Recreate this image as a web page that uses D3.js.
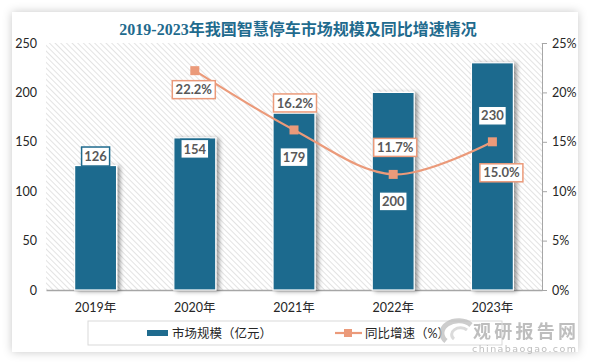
<!DOCTYPE html>
<html>
<head>
<meta charset="utf-8">
<script src="https://cdn.jsdelivr.net/npm/d3@7"></script>
<style>
body { margin: 0; background: #fff; }
svg { display: block; }
</style>
</head>
<body>
<div id="chart-area"></div>
<script>
// data
const years = ["2019年", "2020年", "2021年", "2022年", "2023年"]
const marketSize = [126, 154, 179, 200, 230]          // 亿元
const growthYears = ["2020年", "2021年", "2022年", "2023年"]
const growthRate = [22.2, 16.2, 11.7, 15.0]           // %
const leftTicks = [0, 50, 100, 150, 200, 250]
const rightTicks = [0, 5, 10, 15, 20, 25]

// label placement (px offsets, layout only)
const barLabelDy = [-9, 11, 44, 109, 53]
const lineLabelOffset = [[-1, 19], [1, -27], [2, -27], [9, 31]]

const W = 589, H = 364
const PLOT = { LEFT: 46, RIGHT: 542, TOP: 43, BOTTOM: 290 }
const BLUE = "#1f6b8e"
const SALMON = "#eb9a7a"
const FONT = "Lato, 'Noto Sans CJK SC', sans-serif"

const svg = d3.select("#chart-area").append("svg")
	.attr("width", W)
	.attr("height", H)

const defs = svg.append("defs")

// diagonal hatch for plot background
const pat = defs.append("pattern")
	.attr("id", "hatch")
	.attr("patternUnits", "userSpaceOnUse")
	.attr("width", 4)
	.attr("height", 4)
	.attr("patternTransform", "rotate(-45)")
pat.append("rect").attr("width", 4).attr("height", 4).attr("fill", "#fff")
pat.append("line")
	.attr("x1", 0).attr("y1", 0).attr("x2", 0).attr("y2", 4)
	.attr("stroke", "#d8d8d8")
	.attr("stroke-width", 1.4)

const cardShadow = defs.append("filter").attr("id", "cardShadow")
	.attr("x", "-10%").attr("y", "-10%").attr("width", "120%").attr("height", "120%")
cardShadow.append("feDropShadow")
	.attr("dx", 0).attr("dy", 0).attr("stdDeviation", 5)
	.attr("flood-color", "#000").attr("flood-opacity", 0.22)

const barShadow = defs.append("filter").attr("id", "barShadow")
	.attr("x", "-30%").attr("y", "-10%").attr("width", "160%").attr("height", "120%")
barShadow.append("feDropShadow")
	.attr("dx", 3).attr("dy", 1).attr("stdDeviation", 2)
	.attr("flood-color", "#000").attr("flood-opacity", 0.4)

// card
svg.append("rect")
	.attr("x", 12).attr("y", 12)
	.attr("width", 566).attr("height", 340)
	.attr("fill", "#fff")
	.attr("filter", "url(#cardShadow)")

// title
svg.append("text")
	.attr("x", 298)
	.attr("y", 35)
	.attr("text-anchor", "middle")
	.attr("fill", BLUE)
	.style("font-family", "'Liberation Serif', 'Noto Sans CJK SC', serif")
	.style("font-weight", "bold")
	.style("font-size", "16px")
	.text("2019-2023年我国智慧停车市场规模及同比增速情况")

// plot background
svg.append("rect")
	.attr("x", PLOT.LEFT).attr("y", PLOT.TOP)
	.attr("width", PLOT.RIGHT - PLOT.LEFT)
	.attr("height", PLOT.BOTTOM - PLOT.TOP)
	.attr("fill", "url(#hatch)")

// scales
const x = d3.scaleBand()
	.domain(years)
	.range([PLOT.LEFT, PLOT.RIGHT])
	.paddingInner(0.577)
	.paddingOuter(0.2885)
const y = d3.scaleLinear().domain([0, 250]).range([PLOT.BOTTOM, PLOT.TOP])
const yR = d3.scaleLinear().domain([0, 25]).range([PLOT.BOTTOM, PLOT.TOP])

// axes
const yAxis = svg.append("g")
	.attr("transform", `translate(${PLOT.LEFT},0)`)
	.call(d3.axisLeft(y).tickValues(leftTicks).tickSize(0).tickPadding(9))
yAxis.select(".domain").remove()

const yAxisR = svg.append("g")
	.attr("transform", `translate(${PLOT.RIGHT},0)`)
	.call(d3.axisRight(yR).tickValues(rightTicks).tickSize(5).tickPadding(5)
		.tickFormat(d => d + "%"))
yAxisR.selectAll(".domain, line").attr("stroke", "#a6a6a6")

const xAxis = svg.append("g")
	.attr("transform", `translate(0,${PLOT.BOTTOM})`)
	.call(d3.axisBottom(x).tickSize(0).tickPadding(13))
xAxis.select(".domain").attr("stroke", "#a6a6a6").attr("stroke-width", 1.5)

svg.selectAll(".tick text")
	.attr("fill", "#262626")
	.style("font-family", FONT)
	.style("font-size", "12.5px")

// bars
svg.append("g").selectAll("rect")
	.data(marketSize)
	.join("rect")
	.attr("x", (d, i) => x(years[i]))
	.attr("y", d => y(d))
	.attr("width", x.bandwidth())
	.attr("height", d => y(0) - y(d))
	.attr("fill", BLUE)
	.attr("stroke", "#fff")
	.attr("stroke-width", 1.2)
	.attr("filter", "url(#barShadow)")

// growth line
const cx = yr => x(yr) + x.bandwidth() / 2
const line = d3.line()
	.x((d, i) => cx(growthYears[i]))
	.y(d => yR(d))
	.curve(d3.curveCatmullRom.alpha(0.5))

svg.append("path")
	.datum(growthRate)
	.attr("d", line)
	.attr("fill", "none")
	.attr("stroke", SALMON)
	.attr("stroke-width", 2.2)

svg.append("g").selectAll("rect")
	.data(growthRate)
	.join("rect")
	.attr("x", (d, i) => cx(growthYears[i]) - 4.5)
	.attr("y", d => yR(d) - 4.5)
	.attr("width", 9)
	.attr("height", 9)
	.attr("fill", SALMON)

// data labels
function addLabel(cxv, cyv, w, h, txt, border) {
	const g = svg.append("g").attr("transform", `translate(${cxv},${cyv})`)
	g.append("rect")
		.attr("x", -w / 2).attr("y", -h / 2)
		.attr("width", w).attr("height", h)
		.attr("fill", "#fff")
		.attr("stroke", border)
		.attr("stroke-width", 1.5)
	g.append("text")
		.attr("text-anchor", "middle")
		.attr("dy", "0.36em")
		.attr("fill", "#595959")
		.style("font-family", FONT)
		.style("font-weight", "bold")
		.style("font-size", "13px")
		.text(txt)
}

marketSize.forEach((d, i) => {
	addLabel(cx(years[i]), y(d) + barLabelDy[i], 28, 19, d, BLUE)
})
growthRate.forEach((d, i) => {
	const [dx, dy] = lineLabelOffset[i]
	addLabel(cx(growthYears[i]) + dx, yR(d) + dy, 43, 18, d.toFixed(1) + "%", SALMON)
})

// legend
const legend = svg.append("g")
legend.append("rect")
	.attr("x", 88).attr("y", 321)
	.attr("width", 414).attr("height", 24)
	.attr("fill", "#fff")
	.attr("stroke", "#d9d9d9")
legend.append("rect")
	.attr("x", 147).attr("y", 330)
	.attr("width", 21).attr("height", 6)
	.attr("fill", BLUE)
legend.append("text")
	.attr("x", 172).attr("y", 333).attr("dy", "0.36em")
	.attr("fill", "#262626")
	.style("font-family", FONT)
	.style("font-size", "12.5px")
	.text("市场规模（亿元）")
legend.append("line")
	.attr("x1", 335).attr("x2", 362)
	.attr("y1", 333).attr("y2", 333)
	.attr("stroke", SALMON)
	.attr("stroke-width", 2.2)
legend.append("rect")
	.attr("x", 344).attr("y", 329)
	.attr("width", 8).attr("height", 8)
	.attr("fill", SALMON)
legend.append("text")
	.attr("x", 365).attr("y", 333).attr("dy", "0.36em")
	.attr("fill", "#262626")
	.style("font-family", FONT)
	.style("font-size", "12.5px")
	.text("同比增速（%）")

// watermark
const wm = svg.append("g").attr("opacity", 0.75)
wm.append("path")
	.attr("d", "M446,341 A15,11 0 1,1 471,325")
	.attr("fill", "none")
	.attr("stroke", "#bdbdbd")
	.attr("stroke-width", 5)
wm.append("path")
	.attr("d", "M454,339 A8,6 0 1,1 467,330")
	.attr("fill", "none")
	.attr("stroke", "#cfcfcf")
	.attr("stroke-width", 3)
wm.append("text")
	.attr("x", 473).attr("y", 338)
	.attr("fill", "#a9a9a9")
	.attr("textLength", 103)
	.style("font-family", "'Noto Sans CJK SC', sans-serif")
	.style("font-weight", "bold")
	.style("font-size", "18px")
	.text("观研报告网")
wm.append("text")
	.attr("x", 472).attr("y", 352)
	.attr("fill", "#a9a9a9")
	.attr("textLength", 104)
	.style("font-family", "'DejaVu Sans', sans-serif")
	.style("font-size", "9.5px")
	.text("chinabaogao.com")
</script>
</body>
</html>
